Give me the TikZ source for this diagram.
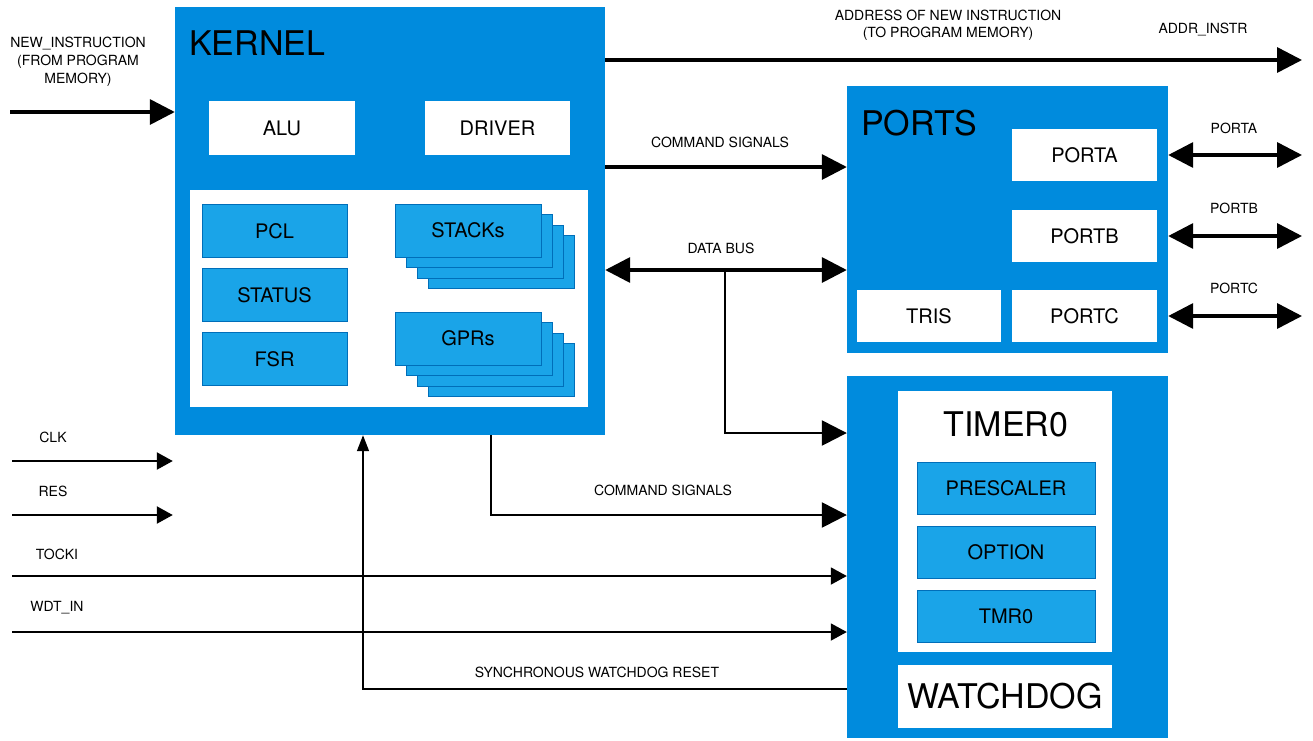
\documentclass[tikz,border=0pt]{standalone}
\usepackage{fontspec}
\setmainfont{TeX Gyre Heros}
\usetikzlibrary{arrows.meta}
\definecolor{kblue}{RGB}{0,139,221}
\definecolor{rblue}{RGB}{26,164,232}
\definecolor{rline}{RGB}{0,110,185}
\tikzset{
  blk/.style={fill=kblue, inner sep=0},
  wbox/.style={fill=white, inner sep=0, font=\fontsize{20}{24}\selectfont},
  rbox/.style={fill=rblue, draw=rline, line width=0.8pt, inner sep=0,
    minimum width=145pt, minimum height=53pt, font=\fontsize{20}{24}\selectfont},
  bigtxt/.style={inner sep=0, font=\fontsize{34}{40}\selectfont},
  lbl/.style={inner sep=0, align=center, font=\fontsize{14}{17}\selectfont},
  bigarr/.style={line width=3.5pt, -{Triangle[length=25pt,width=25pt]}},
  dblarr/.style={line width=3.5pt, {Triangle[length=25pt,width=25pt]}-{Triangle[length=25pt,width=25pt]}},
  medarr/.style={line width=2.2pt, -{Triangle[length=16pt,width=17pt]}},
  thinarr/.style={line width=1.5pt, -{Triangle[length=16pt,width=12pt]}}
}
\begin{document}
\begin{tikzpicture}[x=1pt, y=-1pt]
    \useasboundingbox (0,0) rectangle (1313,740);

    % kernel
    \node[blk, minimum width=430pt, minimum height=428pt] (kernel) at (390,221) {};
    \node[bigtxt, anchor=west] (kernelT) at (189,43) {KERNEL};
    \node[wbox, minimum width=146pt, minimum height=54pt] (alu) at (282,128) {ALU};
    \node[wbox, minimum width=145pt, minimum height=54pt] (driver) at (497.5,128) {DRIVER};
    \node[fill=white, inner sep=0, minimum width=398pt, minimum height=217pt] (regs) at (389,298.5) {};
    \node[rbox] (pcl) at (274.5,231) {PCL};
    \node[rbox] (status) at (274.5,295) {STATUS};
    \node[rbox] (fsr) at (274.5,359) {FSR};
    \foreach \k in {3,2,1} {
        \node[rbox, minimum width=146pt] (stk\k) at (468+11*\k, 230.5+10.5*\k) {};
        \node[rbox, minimum width=146pt] (gpr\k) at (468+11*\k, 338.5+10.5*\k) {};
    }
    \node[rbox, minimum width=146pt] (stacks) at (468,230.5) {STACKs};
    \node[rbox, minimum width=146pt] (gprs) at (468,338.5) {GPRs};

    % ports
    \node[blk, minimum width=321pt, minimum height=267pt] (ports) at (1007.5,219.5) {};
    \node[bigtxt, anchor=west] (portsT) at (861,123) {PORTS};
    \node[wbox, minimum width=145pt, minimum height=52pt] (porta) at (1084.5,155) {PORTA};
    \node[wbox, minimum width=145pt, minimum height=52pt] (portb) at (1084.5,236) {PORTB};
    \node[wbox, minimum width=145pt, minimum height=52pt] (portc) at (1084.5,316) {PORTC};
    \node[wbox, minimum width=144pt, minimum height=52pt] (tris) at (929,316) {TRIS};

    % timer and watchdog
    \node[blk, minimum width=321pt, minimum height=362pt] (timer) at (1007.5,557) {};
    \node[fill=white, inner sep=0, minimum width=214pt, minimum height=261pt] (tmrpanel) at (1005,521.5) {};
    \node[bigtxt] (timerT) at (1006,424) {TIMER0};
    \node[rbox, minimum width=178pt, minimum height=52pt] (presc) at (1006,488) {PRESCALER};
    \node[rbox, minimum width=178pt, minimum height=52pt] (option) at (1006,552) {OPTION};
    \node[rbox, minimum width=178pt, minimum height=52pt] (tmr) at (1006,616) {TMR0};
    \node[wbox, font=\fontsize{34}{40}\selectfont, minimum width=214pt, minimum height=63pt] (wdog) at (1005,696.5) {WATCHDOG};

    % signals
    \coordinate (newin) at (10,112);
    \coordinate (addr) at (1302,60);
    \coordinate (cmdA) at (720,167);
    \coordinate (bus) at (725,270);
    \coordinate (busT) at (725,433);
    \coordinate (cmdB) at (491,515);
    \coordinate (pa) at (1302,155);
    \coordinate (pb) at (1302,236);
    \coordinate (pc) at (1302,316);
    \coordinate (clk) at (12,461);
    \coordinate (res) at (12,515);
    \coordinate (tocki) at (12,576);
    \coordinate (wdtin) at (12,632);
    \coordinate (sync) at (363,689);

    \draw[bigarr] (newin) -- (newin -| kernel.west);
    \draw[bigarr] (addr -| kernel.east) -- (addr);
    \draw[bigarr] (cmdA -| kernel.east) -- (cmdA -| ports.west);
    \draw[dblarr] (bus -| kernel.east) -- (bus -| ports.west);
    \draw[bigarr, line width=2.5pt] (bus) -- (busT) -- (busT -| timer.west);
    \draw[bigarr, line width=2.5pt] (kernel.south -| cmdB) -- (cmdB) -- (cmdB -| timer.west);
    \draw[dblarr] (ports.east |- porta) -- (pa);
    \draw[dblarr] (ports.east |- portb) -- (pb);
    \draw[dblarr] (ports.east |- portc) -- (pc);
    \draw[medarr, shorten >=2pt] (clk) -- (clk -| kernel.west);
    \draw[medarr, shorten >=2pt] (res) -- (res -| kernel.west);
    \draw[medarr, line width=1.8pt] (tocki) -- (tocki -| timer.west);
    \draw[medarr, line width=1.8pt] (wdtin) -- (wdtin -| timer.west);
    \draw[thinarr] (sync -| timer.west) -- (sync) -- (sync |- kernel.south);

    % labels
    \node[lbl, font=\fontsize{14}{18}\selectfont] (newinT) at (78,62) {NEW\_INSTRUCTION\\(FROM PROGRAM\\MEMORY)};
    \node[lbl] (addrT) at (948,25.5) {ADDRESS OF NEW INSTRUCTION\\(TO PROGRAM MEMORY)};
    \node[lbl] (addrN) at (1203,30) {ADDR\_INSTR};
    \node[lbl] (cmdAT) at (720,142) {COMMAND SIGNALS};
    \node[lbl] (busL) at (721,248) {DATA BUS};
    \node[lbl] (paT) at (1234,128) {PORTA};
    \node[lbl] (pbT) at (1234,208) {PORTB};
    \node[lbl] (pcT) at (1234,288) {PORTC};
    \node[lbl] (clkT) at (53,437) {CLK};
    \node[lbl] (resT) at (53,491) {RES};
    \node[lbl] (tockiT) at (57,554) {TOCKI};
    \node[lbl] (wdtinT) at (57,608) {WDT\_IN};
    \node[lbl] (cmdBT) at (663,490) {COMMAND SIGNALS};
    \node[lbl] (syncT) at (597,672) {SYNCHRONOUS WATCHDOG RESET};
\end{tikzpicture}
\end{document}
